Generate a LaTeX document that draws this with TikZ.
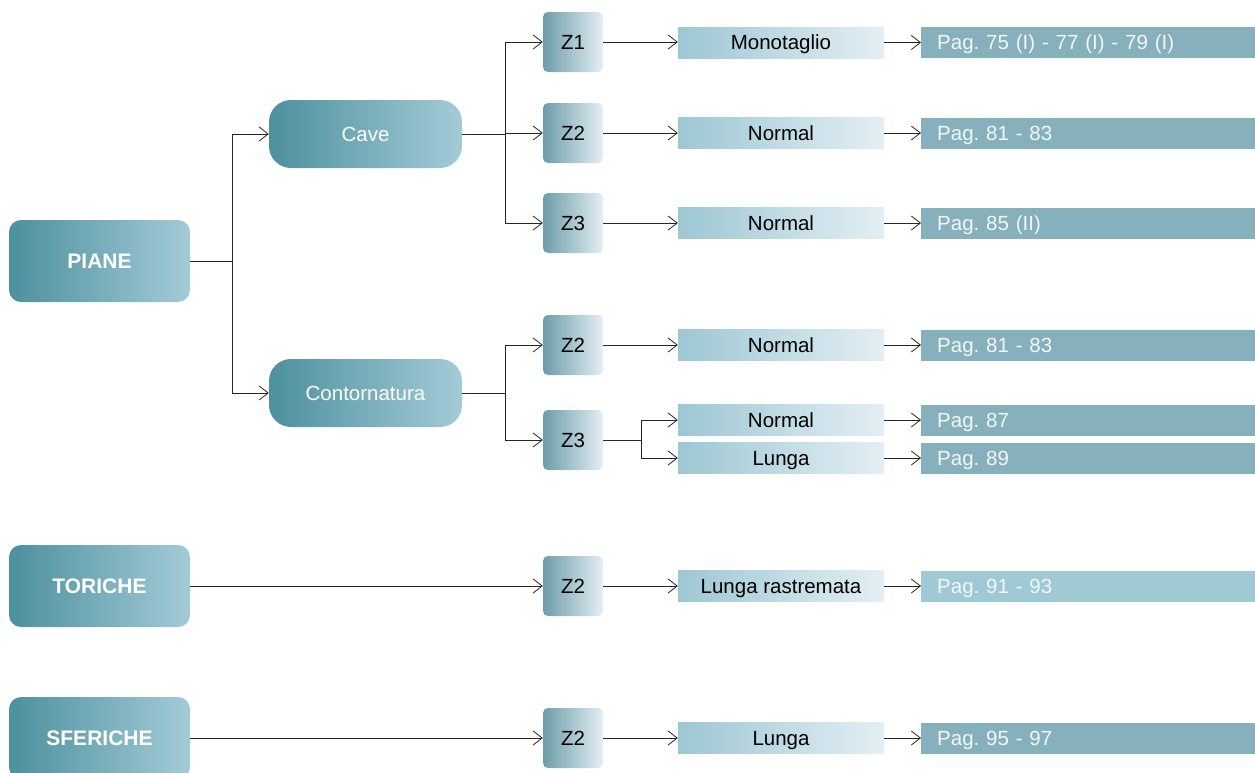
\documentclass[tikz,border=0pt]{standalone}
\usepackage{fontspec}
\setmainfont{Liberation Sans}
\usetikzlibrary{arrows.meta}
\frenchspacing
\definecolor{mainL}{HTML}{4D909E}
\definecolor{mainR}{HTML}{A3CBD7}
\definecolor{zL}{HTML}{6C9DAA}
\definecolor{zR}{HTML}{E4EFF3}
\definecolor{barL}{HTML}{9DC7D4}
\definecolor{barR}{HTML}{E4EFF4}
\definecolor{pagC}{HTML}{87B0BD}
\definecolor{pagLight}{HTML}{A0C9D6}
\definecolor{pagTxt}{HTML}{F2F7F9}
\tikzset{
  every node/.style={font=\fontsize{20.5}{24}\selectfont, inner sep=0pt, text height=14.5pt, text depth=0pt},
  mainbox/.style={rounded corners=12pt, left color=mainL, right color=mainR, text=white, minimum width=181pt, minimum height=82pt, font=\fontsize{21}{24}\selectfont\bfseries},
  catbox/.style={rounded corners=22pt, left color=mainL, right color=mainR, text=white, minimum width=193pt, minimum height=68pt},
  zbox/.style={rounded corners=5pt, left color=zL, right color=zR, text=black, minimum width=60pt, minimum height=60pt},
  barbox/.style={left color=barL, right color=barR, text=black, minimum width=206pt, minimum height=31pt},
  pagbox/.style={fill=pagC, text=pagTxt, anchor=west, minimum height=31pt, text width=302pt, inner xsep=16pt, align=left},
  conn/.style={draw=black!85, line width=0.8pt},
  arr/.style={conn, -{Straight Barb[length=9pt,width=14pt,line width=0.8pt]}}
}
\begin{document}
\begin{tikzpicture}[x=1pt,y=-1pt]
\useasboundingbox (0,0) rectangle (1255,772);
\clip (0,0) rectangle (1255,772);
% main boxes
\node[mainbox] (piane) at (99.5,261) {PIANE};
\node[mainbox] (toriche) at (99.5,586) {TORICHE};
\node[mainbox] (sferiche) at (99.5,738) {SFERICHE};
% categories
\node[catbox] (cave) at (365.5,134) {Cave};
\node[catbox] (cont) at (365.5,393) {Contornatura};
% Z boxes
\node[zbox] (z1) at (573,42) {Z1};
\node[zbox] (z2a) at (573,133) {Z2};
\node[zbox] (z3a) at (573,223) {Z3};
\node[zbox] (z2b) at (573,345) {Z2};
\node[zbox] (z3b) at (573,440) {Z3};
\node[zbox] (z2c) at (573,586) {Z2};
\node[zbox] (z2d) at (573,738) {Z2};
% bars
\node[barbox] (m1) at (781,42.5) {Monotaglio};
\node[barbox] (m2) at (781,133) {Normal};
\node[barbox] (m3) at (781,223) {Normal};
\node[barbox] (m4) at (781,345) {Normal};
\node[barbox] (m5) at (781,420) {Normal};
\node[barbox] (m6) at (781,458) {Lunga};
\node[barbox] (m7) at (781,586) {Lunga rastremata};
\node[barbox] (m8) at (781,738) {Lunga};
% pag bars
\node[pagbox] (p1) at (921,42.5) {Pag. 75 (I) - 77 (I) - 79 (I)};
\node[pagbox] (p2) at (921,133) {Pag. 81 - 83};
\node[pagbox] (p3) at (921,223) {Pag. 85 (II)};
\node[pagbox] (p4) at (921,345) {Pag. 81 - 83};
\node[pagbox] (p5) at (921,420) {Pag. 87};
\node[pagbox] (p6) at (921,458) {Pag. 89};
\node[pagbox, fill=pagLight] (p7) at (921,586) {Pag. 91 - 93};
\node[pagbox] (p8) at (921,738) {Pag. 95 - 97};
% branch points
\coordinate (b1) at (232,261);
\coordinate (b2) at (505,134);
\coordinate (b3) at (505,393);
\coordinate (b4) at (641,440);
% connectors
\draw[conn] (piane.east) -- (b1);
\draw[arr] (b1) |- (cave.west);
\draw[arr] (b1) |- (cont.west);
\draw[conn] (cave.east) -- (b2);
\draw[arr] (b2) |- (z1.west);
\draw[arr] (b2) |- (z2a.west);
\draw[arr] (b2) |- (z3a.west);
\draw[conn] (cont.east) -- (b3);
\draw[arr] (b3) |- (z2b.west);
\draw[arr] (b3) |- (z3b.west);
\draw[conn] (z3b.east) -- (b4);
\draw[arr] (b4) |- (m5.west);
\draw[arr] (b4) |- (m6.west);
\draw[arr] (toriche.east) -- (z2c.west);
\draw[arr] (sferiche.east) -- (z2d.west);
\draw[arr] (z1.east) -- (z1.east -| m1.west);
\draw[arr] (z2a.east) -- (m2.west);
\draw[arr] (z3a.east) -- (m3.west);
\draw[arr] (z2b.east) -- (m4.west);
\draw[arr] (z2c.east) -- (m7.west);
\draw[arr] (z2d.east) -- (m8.west);
\draw[arr] (m1.east) -- (p1.west);
\draw[arr] (m2.east) -- (p2.west);
\draw[arr] (m3.east) -- (p3.west);
\draw[arr] (m4.east) -- (p4.west);
\draw[arr] (m5.east) -- (p5.west);
\draw[arr] (m6.east) -- (p6.west);
\draw[arr] (m7.east) -- (p7.west);
\draw[arr] (m8.east) -- (p8.west);
\end{tikzpicture}
\end{document}
